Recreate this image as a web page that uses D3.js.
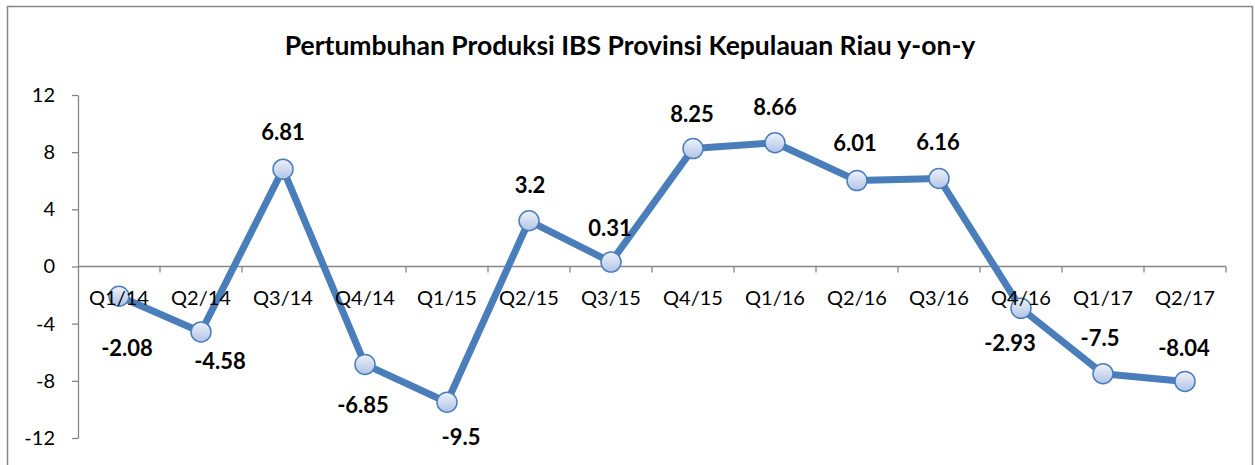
<!DOCTYPE html>
<html>
<head>
<meta charset="utf-8">
<script src="https://cdn.jsdelivr.net/npm/d3@7"></script>
<style>
  body { margin: 0; background: #fff; }
  svg text { font-family: Lato, "Noto Sans", sans-serif; }
</style>
</head>
<body>
<svg id="chart" width="1255" height="465"></svg>
<script>
// data
const quarters = ["Q1/14", "Q2/14", "Q3/14", "Q4/14", "Q1/15", "Q2/15", "Q3/15",
                  "Q4/15", "Q1/16", "Q2/16", "Q3/16", "Q4/16", "Q1/17", "Q2/17"];
const growth = [-2.08, -4.58, 6.81, -6.85, -9.5, 3.2, 0.31,
                8.25, 8.66, 6.01, 6.16, -2.93, -7.5, -8.04];
const yTicks = [-12, -8, -4, 0, 4, 8, 12];
const title = "Pertumbuhan Produksi IBS Provinsi Kepulauan Riau y-on-y";

// label offsets (dx, dy) relative to each point, as placed in the original chart
const labelOffsets = [[8, 52], [19, 29], [0, -37], [-2, 41], [14, 35], [1, -35], [-1, -34],
                      [-1, -34], [0, -35], [-2, -37], [-1, -36], [-11, 35], [-3, -35], [-1, -33]];

const svg = d3.select("#chart");
const margin = {top: 95, left: 78, right: 1226, bottom: 438};

// outer frame
svg.append("rect")
  .attr("x", 7.5).attr("y", 6.5)
  .attr("width", 1245).attr("height", 470)
  .attr("fill", "#fff").attr("stroke", "#868686").attr("stroke-width", 1.5);

svg.append("text")
  .attr("x", 630).attr("y", 55)
  .attr("text-anchor", "middle")
  .attr("font-size", 26.5).attr("font-weight", "bold")
  .text(title);

const x = d3.scaleBand().domain(quarters).range([margin.left, margin.right]);
const y = d3.scaleLinear().domain([-12, 12]).range([margin.bottom, margin.top]);

// y axis
const yAxis = svg.append("g")
  .attr("transform", `translate(${margin.left},0)`)
  .call(d3.axisLeft(y).tickValues(yTicks).tickFormat(d => String(d))
    .tickSize(6).tickPadding(17).tickSizeOuter(0));
yAxis.select(".domain").attr("stroke", "#868686").attr("stroke-width", 1.3);
yAxis.selectAll(".tick line").attr("stroke", "#868686").attr("stroke-width", 1.3);
yAxis.selectAll(".tick text").attr("font-size", 20).attr("fill", "#000")
  .style("font-family", "Lato, sans-serif");

// x axis line + ticks at zero
const xAxisG = svg.append("g").attr("transform", `translate(0,${y(0)})`);
xAxisG.append("line")
  .attr("x1", margin.left).attr("x2", margin.right)
  .attr("stroke", "#868686").attr("stroke-width", 1.3);
const bounds = quarters.map(q => x(q)).concat([margin.right]);
xAxisG.selectAll("line.tk").data(bounds.slice(1)).join("line")
  .attr("class", "tk")
  .attr("x1", d => d).attr("x2", d => d)
  .attr("y1", 0).attr("y2", 6)
  .attr("stroke", "#868686").attr("stroke-width", 1.3);

// gradient for markers
const grad = svg.append("defs").append("linearGradient")
  .attr("id", "mk").attr("x1", 0).attr("y1", 0).attr("x2", 0).attr("y2", 1);
grad.append("stop").attr("offset", "0%").attr("stop-color", "#eef2fa");
grad.append("stop").attr("offset", "100%").attr("stop-color", "#b0c4e6");

const pts = quarters.map((q, i) => ({q, v: growth[i], off: labelOffsets[i]}));
const cx = d => x(d.q) + x.bandwidth() / 2;

svg.append("path")
  .datum(pts)
  .attr("fill", "none")
  .attr("stroke", "#4a7ebb")
  .attr("stroke-width", 7)
  .attr("stroke-linejoin", "round")
  .attr("d", d3.line().x(cx).y(d => y(d.v)));

svg.selectAll("circle.mk").data(pts).join("circle")
  .attr("class", "mk")
  .attr("cx", cx).attr("cy", d => y(d.v))
  .attr("r", 10)
  .attr("fill", "url(#mk)")
  .attr("stroke", "#4a7ebb").attr("stroke-width", 1.5);

// category labels sit on top of the line and markers
svg.append("g").attr("transform", `translate(0,${y(0)})`)
  .selectAll("text").data(quarters).join("text")
  .attr("x", d => x(d) + x.bandwidth() / 2)
  .attr("y", 38)
  .attr("text-anchor", "middle")
  .attr("font-size", 20)
  .text(d => d);

svg.selectAll("text.lbl").data(pts).join("text")
  .attr("class", "lbl")
  .attr("x", d => cx(d) + d.off[0])
  .attr("y", d => y(d.v) + d.off[1])
  .attr("dy", "0.35em")
  .attr("text-anchor", "middle")
  .attr("font-size", 22).attr("font-weight", "bold")
  .text(d => d.v);
</script>
</body>
</html>
